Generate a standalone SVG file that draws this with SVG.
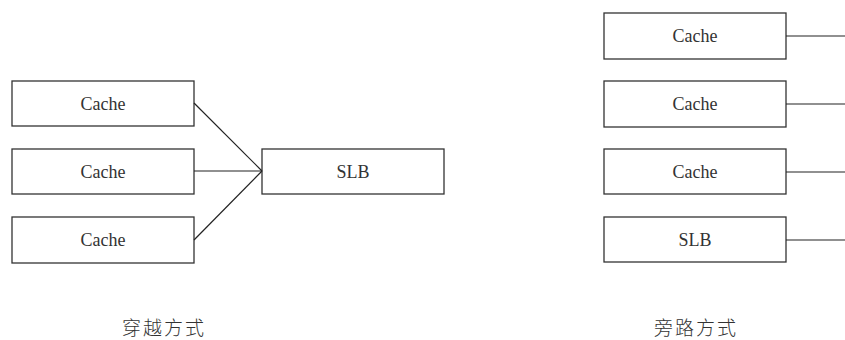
<svg xmlns="http://www.w3.org/2000/svg" width="845" height="340" viewBox="0 0 845 340">
  <style>
    .box { fill: #ffffff; stroke: #333333; stroke-width: 1.3; }
    .lbl { font-family: "Liberation Serif", serif; font-size: 18px; fill: #333333; text-anchor: middle; }
    .cap { font-family: "Noto Sans CJK SC", sans-serif; font-size: 19px; font-weight: 300; letter-spacing: 2px; fill: #333333; text-anchor: middle; }
    .wire { stroke: #222222; stroke-width: 1.2; fill: none; }
  </style>
  <rect width="845" height="340" fill="#ffffff"/>

  <!-- pass-through layout -->
  <g id="through-cache-1"><rect class="box" x="12" y="81" width="182" height="45"/><text class="lbl" x="103" y="110">Cache</text></g>
  <g id="through-cache-2"><rect class="box" x="12" y="149" width="182" height="45"/><text class="lbl" x="103" y="178">Cache</text></g>
  <g id="through-cache-3"><rect class="box" x="12" y="217" width="182" height="46"/><text class="lbl" x="103" y="246">Cache</text></g>
  <g id="through-slb"><rect class="box" x="262" y="149" width="182" height="45"/><text class="lbl" x="353" y="178">SLB</text></g>

  <!-- bypass layout -->
  <g id="bypass-cache-1"><rect class="box" x="604" y="13" width="182" height="46"/><text class="lbl" x="695" y="42">Cache</text></g>
  <g id="bypass-cache-2"><rect class="box" x="604" y="81" width="182" height="46"/><text class="lbl" x="695" y="110">Cache</text></g>
  <g id="bypass-cache-3"><rect class="box" x="604" y="149" width="182" height="45"/><text class="lbl" x="695" y="178">Cache</text></g>
  <g id="bypass-slb"><rect class="box" x="604" y="217" width="182" height="45"/><text class="lbl" x="695" y="246">SLB</text></g>

  <g id="connectors">
    <line class="wire" x1="194" y1="103" x2="262" y2="171"/>
    <line class="wire" x1="194" y1="171" x2="262" y2="171"/>
    <line class="wire" x1="194" y1="240" x2="262" y2="171"/>
    <line class="wire" x1="786" y1="36" x2="845" y2="36"/>
    <line class="wire" x1="786" y1="104" x2="845" y2="104"/>
    <line class="wire" x1="786" y1="172" x2="845" y2="172"/>
    <line class="wire" x1="786" y1="240" x2="845" y2="240"/>
  </g>

  <g id="captions">
    <text class="cap" x="164" y="335">穿越方式</text>
    <text class="cap" x="696" y="335">旁路方式</text>
  </g>
</svg>
